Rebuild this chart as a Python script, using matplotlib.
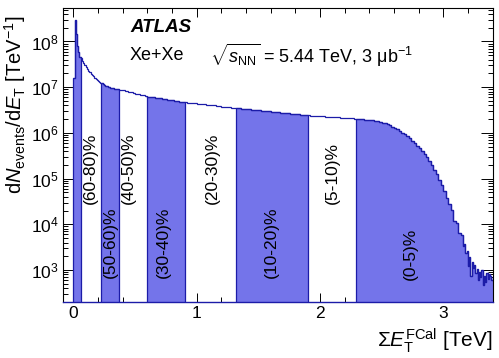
import matplotlib
matplotlib.use("Agg")
import matplotlib.pyplot as plt
import numpy as np
from matplotlib.ticker import MultipleLocator, NullFormatter, FixedLocator, FuncFormatter, LogFormatterMathtext

plt.rcParams['font.family'] = ['Liberation Sans', 'DejaVu Sans']
plt.rcParams['mathtext.fontset'] = 'custom'
plt.rcParams['mathtext.rm'] = 'Liberation Sans'
plt.rcParams['mathtext.it'] = 'Liberation Sans:italic'
plt.rcParams['mathtext.bf'] = 'Liberation Sans:bold'

# ---------------- data ----------------
# histogram bin edges (TeV), in sections of fixed bin width
edges_peak = [0.00, 0.01, 0.02, 0.03, 0.04, 0.05, 0.06]
edges_low = np.round(np.arange(0.07, 0.4001, 0.01), 3).tolist()        # to 0.40
edges_mid1 = np.round(np.arange(0.42, 1.0001, 0.02), 3).tolist()       # to 1.00
edges_mid2 = np.round(np.arange(1.04, 2.2801, 0.04), 3).tolist()       # to 2.28
edges_high = np.round(np.arange(2.30, 3.1601, 0.02), 3).tolist()       # to 3.16
edges_tail = np.round(np.arange(3.17, 3.4101, 0.01), 3).tolist()       # to 3.41
bin_edges = edges_peak + edges_low + edges_mid1 + edges_mid2 + edges_high + edges_tail

# dN_events/dE_T values (TeV^-1) in each bin
vals_peak = [1.6e7, 2.9e8, 1.45e8, 8.0e7, 5.8e7, 4.6e7]
vals_low = [4.3e7, 3.8e7, 3.4e7, 3.05e7, 2.75e7, 2.5e7, 2.3e7, 2.12e7, 1.97e7, 1.84e7,
            1.72e7, 1.62e7, 1.53e7, 1.45e7, 1.38e7, 1.31e7, 1.26e7, 1.21e7, 1.16e7, 1.12e7,
            1.08e7, 1.05e7, 1.02e7, 1.0e7, 9.8e6, 9.6e6, 9.45e6, 9.3e6, 9.15e6, 9.0e6,
            8.9e6, 8.8e6, 8.65e6, 8.5e6]
vals_mid1 = [8.55e6, 8.28e6, 8.0e6, 7.75e6, 7.5e6, 7.26e6, 7.03e6, 6.8e6, 6.58e6, 6.37e6,
             6.22e6, 6.11e6, 5.99e6, 5.88e6, 5.77e6, 5.66e6, 5.56e6, 5.45e6, 5.35e6, 5.25e6,
             5.15e6, 5.06e6, 4.96e6, 4.86e6, 4.77e6, 4.69e6, 4.62e6, 4.55e6, 4.49e6, 4.42e6]
vals_mid2 = [4.3e6, 4.2e6, 4.1e6, 3.98e6, 3.86e6, 3.76e6, 3.65e6, 3.55e6,
             3.46e6, 3.37e6, 3.29e6, 3.21e6, 3.13e6, 3.06e6, 2.98e6, 2.91e6, 2.84e6,
             2.77e6, 2.70e6, 2.64e6, 2.57e6, 2.51e6, 2.45e6,
             2.40e6, 2.36e6, 2.32e6, 2.28e6, 2.23e6, 2.19e6, 2.15e6, 2.11e6, 2.07e6]
vals_high = [2.04e6, 2.02e6, 2.00e6, 1.99e6, 1.96e6, 1.93e6, 1.90e6, 1.87e6, 1.84e6,
             1.79e6, 1.74e6, 1.68e6, 1.61e6, 1.55e6, 1.46e6, 1.37e6, 1.29e6, 1.19e6, 1.11e6,
             1.02e6, 9.3e5, 8.4e5, 7.6e5, 6.8e5, 6.0e5, 5.3e5, 4.7e5, 4.0e5, 3.5e5,
             2.9e5, 2.4e5, 1.96e5, 1.57e5, 1.26e5, 9.5e4, 7.2e4, 5.3e4, 3.8e4, 2.75e4,
             2.1e4, 1.2e4, 1.05e4, 6.5e3, 5.8e3]
vals_tail = [3.3e3, 3.8e3, 2.4e3, 2.6e3, 1.2e3, 1.9e3, 7.5e2, 1.5e3, 1.1e3, 1.3e3,
             8.5e2, 1.05e3, 6.0e2, 9.0e2, 7.0e2, 1.0e3, 4.8e2, 7.5e2, 5.5e2, 8.5e2,
             6.5e2, 8.0e2, 7.5e2, 6.0e2, 7.0e2]
dn_det = vals_peak + vals_low + vals_mid1 + vals_mid2 + vals_high + vals_tail

# centrality class boundaries (TeV) of the filled (blue) bands
band_lo = [0.0, 0.222, 0.595, 1.32, 2.29]
band_hi = [0.065, 0.373, 0.903, 1.901, 3.41]

class_labels = ['(60-80)%', '(50-60)%', '(40-50)%', '(30-40)%',
                '(20-30)%', '(10-20)%', '(5-10)%', '(0-5)%']
label_x = [0.137, 0.30, 0.45, 0.73, 1.13, 1.61, 2.10, 2.73]
label_y = [1.7e5, 4.0e3, 1.7e5, 4.0e3, 1.7e5, 4.0e3, 1.3e5, 2.3e3]

y_major = [1e3, 1e4, 1e5, 1e6, 1e7, 1e8]
x_major = [0, 1, 2, 3]

FILL = '#7474EA'
LINE = '#1C1CA8'

fig = plt.figure(figsize=(4.99, 3.58), dpi=100)
ax = fig.add_axes([0.1257, 0.1564, 0.9886 - 0.1257, 0.9777 - 0.1564])
ax.set_yscale('log')
ax.set_xlim(-0.086, 3.406)
ax.set_ylim(200, 5.4e8)
ax.set_axisbelow(True)

edges = np.array(bin_edges)
vals = np.array(dn_det)
assert len(edges) == len(vals) + 1
for lo, hi in zip(band_lo, band_hi):
    inner = edges[(edges > lo + 1e-9) & (edges < hi - 1e-9)]
    seg_edges = np.concatenate([[lo], inner, [hi]])
    idx = np.searchsorted(edges, seg_edges[:-1] + 1e-9, side='right') - 1
    ax.stairs(vals[idx], seg_edges, baseline=1.0, fill=True, facecolor=FILL,
              edgecolor=LINE, linewidth=0.9, zorder=1)
ax.stairs(vals, edges, baseline=None, color=LINE, linewidth=0.9, zorder=2)

for t, x, y in zip(class_labels, label_x, label_y):
    ax.text(x, y, t, rotation=90, ha='center', va='center', fontsize=12.5,
            color='black', zorder=3)

# axes styling
for s in ['left', 'top', 'right']:
    ax.spines[s].set_color('black')
    ax.spines[s].set_linewidth(0.8)
ax.spines['bottom'].set_color(LINE)
ax.spines['bottom'].set_linewidth(1.0)

ax.xaxis.set_major_locator(FixedLocator(x_major))
ax.xaxis.set_minor_locator(MultipleLocator(0.2))
ax.yaxis.set_major_locator(FixedLocator(y_major))
minor_y = [m * 10 ** e for e in range(2, 9) for m in range(2, 10)
           if 200 <= m * 10 ** e <= 5.4e8]
ax.yaxis.set_minor_locator(FixedLocator(minor_y))
ax.yaxis.set_major_formatter(LogFormatterMathtext())
ax.yaxis.set_minor_formatter(NullFormatter())
ax.tick_params(axis='x', which='major', direction='in', length=6.5, width=0.7,
               top=True, labelsize=12.5, pad=3)
ax.tick_params(axis='x', which='minor', direction='in', length=3.6, width=0.7, top=True)
ax.tick_params(axis='y', which='major', direction='in', length=8.6, width=0.7,
               right=True, labelsize=12.5, pad=3)
ax.tick_params(axis='y', which='minor', direction='in', length=3.6, width=0.7, right=True)
ax.xaxis.set_major_formatter(FuncFormatter(lambda v, p: f'{int(v)}'))

fig.text(493 / 499, 1 - 341 / 358, r'$\Sigma E_{\mathrm{T}}^{\mathrm{FCal}}$ [TeV]',
         fontsize=15, ha='right', va='center')
fig.text(15 / 499, 1 - 105 / 358,
         r'd$N_{\mathrm{events}}$/d$E_{\mathrm{T}}$ [TeV$^{-1}$]',
         fontsize=14.5, rotation=90, ha='center', va='center')

ax.text(0.156, 0.932, 'ATLAS', transform=ax.transAxes, fontsize=13.5,
        fontweight='bold', fontstyle='italic', va='center', ha='left')
ax.text(0.156, 0.84, 'Xe+Xe', transform=ax.transAxes, fontsize=13,
        va='center', ha='left')
ax.text(0.342, 0.84, r'$\sqrt{s_{\mathrm{NN}}}$ = 5.44 TeV, 3 μb$^{-1}$',
        transform=ax.transAxes, fontsize=13, va='center', ha='left')

fig.savefig('out.png', dpi=100)
